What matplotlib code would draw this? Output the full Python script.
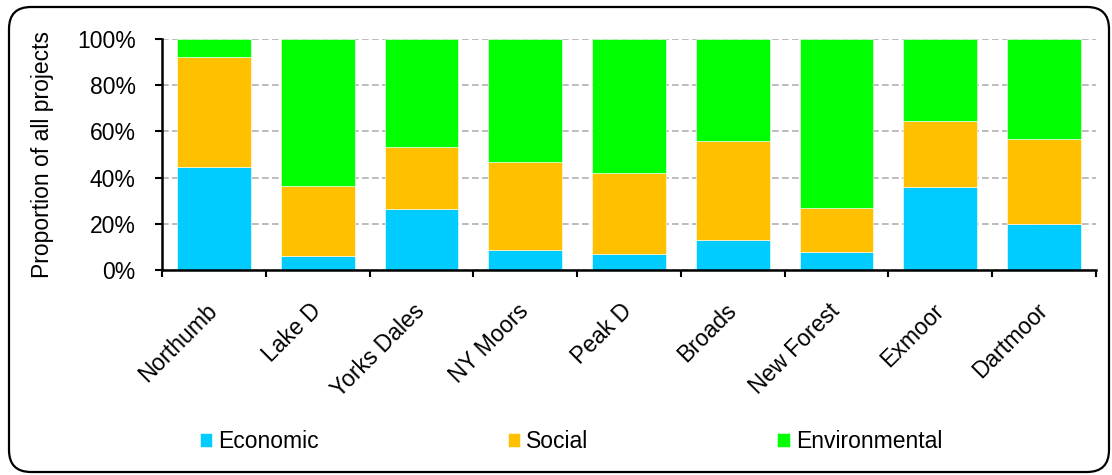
import matplotlib
matplotlib.use("Agg")
import matplotlib.pyplot as plt
import numpy as np
from matplotlib.patches import FancyBboxPatch
from matplotlib.ticker import FixedLocator, PercentFormatter

plt.rcParams['font.family'] = ['Liberation Sans', 'DejaVu Sans']

parks = ["Northumb", "Lake D", "Yorks Dales", "NY Moors", "Peak D",
         "Broads", "New Forest", "Exmoor", "Dartmoor"]
economic = [44.7, 6.2, 26.5, 8.8, 7.1, 13.1, 7.9, 36.1, 19.9]
social = [47.4, 30.2, 26.9, 37.8, 35.0, 42.9, 18.9, 28.5, 36.9]
environmental = [100 - e - s for e, s in zip(economic, social)]

series = [("Economic", economic, "#00CCFF"),
          ("Social", social, "#FFC000"),
          ("Environmental", environmental, "#00FF00")]

FS = 16.5
W, H = 1112, 475
fig = plt.figure(figsize=(W / 100, H / 100), dpi=100)

# rounded chart-area frame, drawn in pixel units on a background axes
bg = fig.add_axes([0, 0, 1, 1], zorder=-1)
bg.set_xlim(0, W)
bg.set_ylim(H, 0)
bg.axis("off")
bg.add_patch(FancyBboxPatch((9, 7), 1100, 465,
                            boxstyle="round,pad=0,rounding_size=22",
                            facecolor="white", edgecolor="black",
                            linewidth=1.6))

ax = fig.add_axes([162 / W, 1 - 270 / H, (1096 - 162) / W, (270 - 39) / H])
ax.patch.set_alpha(0)

x = np.arange(len(parks))
bottom = np.zeros(len(parks))
for name, vals, col in series:
    ax.bar(x, vals, width=0.71, bottom=bottom, color=col, label=name,
           edgecolor="white", linewidth=0.4, zorder=2)
    bottom += np.array(vals)

ax.set_xlim(-0.5, len(parks) - 0.5)
ax.set_ylim(0, 100)
ax.set_yticks(np.arange(0, 101, 20))
ax.yaxis.set_major_formatter(PercentFormatter(decimals=0))
ax.yaxis.grid(True, color="#b0b0b0", linestyle=(0, (4, 2)), linewidth=1.2, zorder=0)
ax.set_axisbelow(True)

# category boundaries carry the tick marks; names sit (unticked) near centres
ax.xaxis.set_major_locator(FixedLocator(np.arange(-0.5, len(parks), 1)))
ax.xaxis.set_minor_locator(FixedLocator(x - 0.08))
ax.set_xticklabels([])
ax.set_xticklabels(parks, minor=True, rotation=45, ha="right",
                   rotation_mode="anchor", fontsize=FS)
ax.tick_params(axis="x", which="minor", length=0, pad=21)
ax.tick_params(axis="x", which="major", length=5, width=1.5, direction="out")
ax.tick_params(axis="y", length=5, width=1.5, direction="out", labelsize=FS, pad=14)

for side in ("top", "right"):
    ax.spines[side].set_visible(False)
for side in ("left", "bottom"):
    ax.spines[side].set_linewidth(1.8)

ax.set_ylabel("Proportion of all projects", fontsize=FS)
ax.yaxis.set_label_coords(-0.116, 0.5)

handles, labels = ax.get_legend_handles_labels()
leg = fig.legend(handles, labels, loc="center", ncol=3,
                 bbox_to_anchor=(571 / W, 1 - 442 / H), frameon=False,
                 fontsize=FS, handlelength=0.55, handleheight=0.55,
                 handletextpad=0.25, columnspacing=8.25)

fig.savefig("out.png", dpi=100)
